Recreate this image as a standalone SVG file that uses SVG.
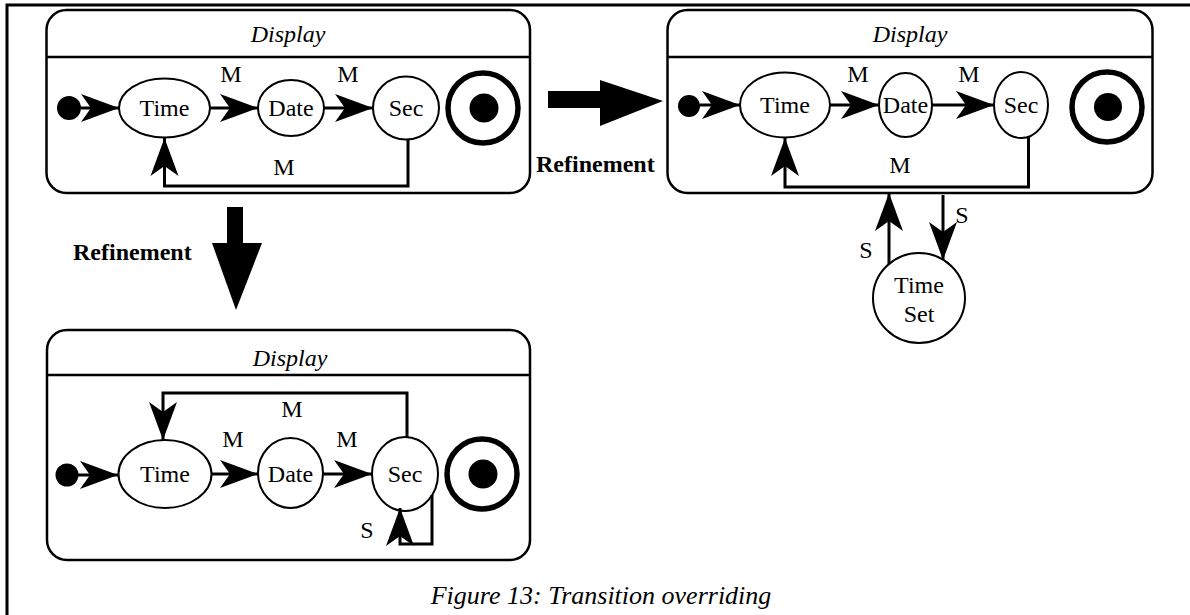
<svg xmlns="http://www.w3.org/2000/svg" width="1190" height="615" viewBox="0 0 1190 615">
  <defs>
    <style>
      .frame { fill: none; stroke: #000; stroke-width: 3; }
      .box { fill: #fff; stroke: #000; stroke-width: 2.5; }
      .div { stroke: #000; stroke-width: 2.5; }
      .state { fill: #fff; stroke: #000; stroke-width: 2; }
      .init { fill: #000; }
      .final { fill: #fff; stroke: #000; stroke-width: 5.5; }
      .edge { fill: none; stroke: #000; stroke-width: 3; marker-end: url(#barb); }
      .txt { font-family: "Liberation Serif", "Times New Roman", serif; font-size: 24px; text-anchor: middle; fill: #000; }
      .it { font-style: italic; }
      .bold { font-weight: bold; text-anchor: start; }
      .big { fill: #000; }
    </style>
    <!-- barbed, notched arrowhead used on every transition -->
    <marker id="barb" markerUnits="userSpaceOnUse" orient="auto" viewBox="-40 -16 42 32" refX="0" refY="0" markerWidth="42" markerHeight="32">
      <path d="M0,0 L-38,-14 L-28,0 L-38,14 Z" fill="#000"/>
    </marker>
  </defs>

  <rect width="1190" height="615" fill="#fff"/>
  <!-- page frame: top and left rules -->
  <path class="frame" d="M7,615 V5 H1190"/>

  <!-- refinement arrows -->
  <g id="refine-right">
    <rect class="big" x="548" y="91" width="56" height="17"/>
    <polygon class="big" points="600,80 663,101 600,126"/>
    <text class="txt bold" x="536" y="172">Refinement</text>
  </g>
  <g id="refine-down">
    <rect class="big" x="227" y="207" width="16" height="38"/>
    <polygon class="big" points="212,243 262,243 236,310"/>
    <text class="txt bold" x="73" y="260">Refinement</text>
  </g>

  <!-- original state machine -->
  <g id="display-a">
    <rect class="box" x="46.5" y="10" width="483.5" height="183" rx="20"/>
    <line class="div" x1="46.5" y1="57" x2="530" y2="57"/>
    <text class="txt it" x="288" y="42">Display</text>
  </g>
  <g id="a-init"><circle class="init" cx="69" cy="108" r="12"/></g>
  <g id="a-time"><ellipse class="state" cx="164.5" cy="108" rx="45.5" ry="29.5"/><text class="txt" x="164.5" y="116">Time</text></g>
  <g id="a-date"><ellipse class="state" cx="291" cy="108" rx="33" ry="28"/><text class="txt" x="291" y="116">Date</text></g>
  <g id="a-sec"><ellipse class="state" cx="406" cy="108" rx="33" ry="31.5"/><text class="txt" x="406" y="116">Sec</text></g>
  <g id="a-final"><circle class="final" cx="483" cy="108" r="35"/><circle class="init" cx="484" cy="108" r="14.5"/></g>

  <!-- refinement adding a TimeSet state -->
  <g id="display-b">
    <rect class="box" x="667.5" y="10" width="485" height="183" rx="20"/>
    <line class="div" x1="667.5" y1="57" x2="1152.5" y2="57"/>
    <text class="txt it" x="910" y="42">Display</text>
  </g>
  <g id="b-init"><circle class="init" cx="689" cy="106" r="11"/></g>
  <g id="b-time"><ellipse class="state" cx="785" cy="105" rx="45" ry="32.5"/><text class="txt" x="785" y="113">Time</text></g>
  <g id="b-date"><ellipse class="state" cx="905.5" cy="105" rx="26.5" ry="32"/><text class="txt" x="905.5" y="113">Date</text></g>
  <g id="b-sec"><ellipse class="state" cx="1021" cy="105" rx="27" ry="33"/><text class="txt" x="1021" y="113">Sec</text></g>
  <g id="b-final"><circle class="final" cx="1107" cy="107" r="35"/><circle class="init" cx="1108" cy="107" r="14"/></g>
  <g id="b-timeset"><ellipse class="state" cx="919" cy="298" rx="46" ry="45"/><text class="txt" x="919" y="293">Time</text><text class="txt" x="919" y="322">Set</text></g>

  <!-- refinement overriding the Sec transition -->
  <g id="display-c">
    <rect class="box" x="47" y="330" width="483" height="230" rx="20"/>
    <line class="div" x1="47" y1="375" x2="530" y2="375"/>
    <text class="txt it" x="290" y="366">Display</text>
  </g>
  <g id="c-init"><circle class="init" cx="67" cy="475" r="11.5"/></g>
  <g id="c-time"><ellipse class="state" cx="165" cy="474" rx="46.5" ry="34"/><text class="txt" x="165" y="482">Time</text></g>
  <g id="c-date"><ellipse class="state" cx="290.5" cy="473" rx="32.5" ry="35"/><text class="txt" x="290.5" y="482">Date</text></g>
  <g id="c-sec"><ellipse class="state" cx="405" cy="474" rx="33" ry="37"/><text class="txt" x="405" y="482">Sec</text></g>
  <g id="c-final"><circle class="final" cx="482" cy="474" r="35"/><circle class="init" cx="483" cy="474" r="14.5"/></g>

  <!-- transitions -->
  <g id="connectors">
    <path class="edge" d="M81,108 L119,108"/>
    <path class="edge" d="M210,108 L258,108"/>
    <path class="edge" d="M324,108 L373,108"/>
    <path class="edge" d="M408,139.5 V186 H164.5 V138"/>

    <path class="edge" d="M700,105 L740,105"/>
    <path class="edge" d="M830,105 L879,105"/>
    <path class="edge" d="M932,105 L994,105"/>
    <path class="edge" d="M1028.5,137 V187 H785 V138"/>
    <path class="edge" d="M889,264 V193"/>
    <path class="edge" d="M943,195 V260"/>

    <path class="edge" d="M78,475 L118,475"/>
    <path class="edge" d="M212,474 L258,474"/>
    <path class="edge" d="M323,474 L372,474"/>
    <path class="edge" d="M407,437 V393 H163 V440"/>
    <path class="edge" d="M432,495 V544 H400 V508"/>
  </g>

  <!-- transition labels -->
  <g id="labels">
    <text class="txt" x="231" y="82">M</text>
    <text class="txt" x="348" y="82">M</text>
    <text class="txt" x="284" y="175">M</text>

    <text class="txt" x="858" y="82">M</text>
    <text class="txt" x="969" y="82">M</text>
    <text class="txt" x="900" y="173">M</text>
    <text class="txt" x="866" y="258">S</text>
    <text class="txt" x="962" y="223">S</text>

    <text class="txt" x="292" y="417">M</text>
    <text class="txt" x="233" y="447">M</text>
    <text class="txt" x="347" y="447">M</text>
    <text class="txt" x="367" y="538">S</text>
  </g>

  <text class="txt it" x="601" y="604" style="font-size:26px">Figure 13: Transition overriding</text>
</svg>
